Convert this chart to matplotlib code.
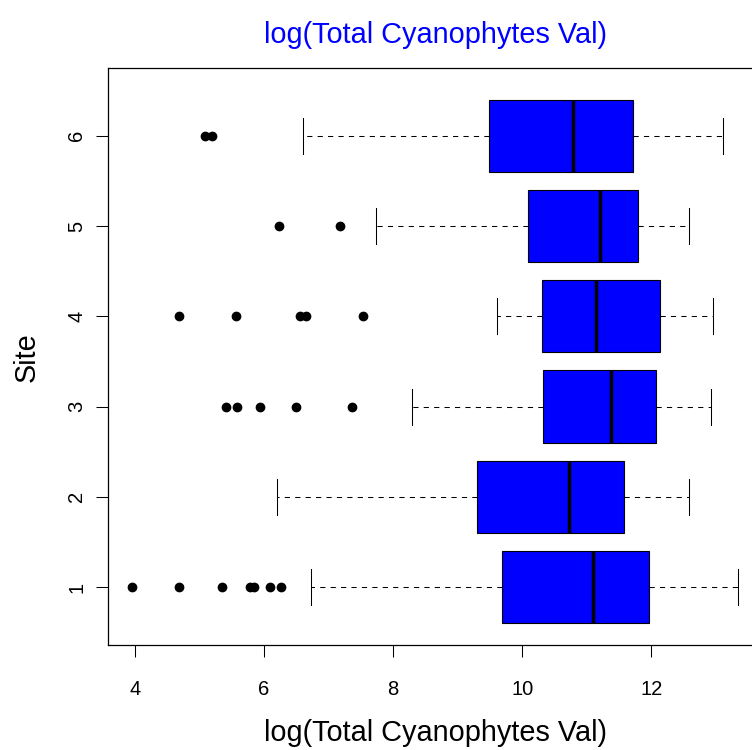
import numpy as np
import matplotlib
matplotlib.use("Agg")
import matplotlib.pyplot as plt

plt.rcParams['font.family'] = ['Liberation Sans', 'DejaVu Sans']

# box statistics, site 1..6
sites = [1, 2, 3, 4, 5, 6]
whis_lo = [6.73, 6.20, 8.29, 9.61, 7.74, 6.60]
q1 = [9.69, 9.30, 10.32, 10.30, 10.09, 9.49]
med = [11.10, 10.72, 11.38, 11.14, 11.20, 10.78]
q3 = [11.97, 11.58, 12.08, 12.13, 11.79, 11.71]
whis_hi = [13.35, 12.59, 12.93, 12.96, 12.58, 13.11]
outliers = [
    [3.96, 4.68, 5.35, 5.78, 5.84, 6.10, 6.26],
    [],
    [5.41, 5.59, 5.94, 6.49, 7.36],
    [4.69, 5.57, 6.56, 6.65, 7.54],
    [6.24, 7.18],
    [5.09, 5.19],
]

stats = []
for i in range(len(sites)):
    stats.append({'whislo': whis_lo[i], 'q1': q1[i], 'med': med[i],
                  'q3': q3[i], 'whishi': whis_hi[i], 'fliers': outliers[i]})

fig = plt.figure(figsize=(7.52, 7.50), dpi=100)
W, H = 752, 750
ax = fig.add_axes([108 / W, 1 - 645 / H, (763 - 108) / W, (645 - 68.3) / H])

ax.bxp(stats, positions=sites, widths=0.8, orientation='horizontal',
       patch_artist=True,
       boxprops=dict(facecolor='#0000ff', edgecolor='black', linewidth=0.8),
       medianprops=dict(color='black', linewidth=2.5, solid_capstyle='butt'),
       whiskerprops=dict(color='black', linewidth=0.75, linestyle=(0, (5, 5))),
       capprops=dict(color='black', linewidth=0.75),
       flierprops=dict(marker='o', markerfacecolor='black',
                       markeredgecolor='black', markersize=6, linestyle='none'))

ax.set_xlim(3.585, 13.73)
ax.set_ylim(0.36, 6.746)
ax.set_xticks([4, 6, 8, 10, 12])
ax.set_yticks(sites)
ax.set_yticklabels([str(s) for s in sites], rotation=90, va='center')
ax.tick_params(axis='both', direction='out', length=8.6, width=0.75,
               labelsize=14.5)
ax.tick_params(axis='x', pad=16.5)
ax.tick_params(axis='y', pad=7)
for sp in ax.spines.values():
    sp.set_linewidth(0.9)

fig.text(435.5 / W, 1 - 35 / H, 'log(Total Cyanophytes Val)', color='#0000ff',
         fontsize=20.8, ha='center', va='center')
fig.text(435.5 / W, 1 - 733 / H, 'log(Total Cyanophytes Val)', color='black',
         fontsize=20.8, ha='center', va='center')
fig.text(27 / W, 1 - 357 / H, 'Site', fontsize=20.8, rotation=90,
         ha='center', va='center')

fig.savefig('out.png', dpi=100)
